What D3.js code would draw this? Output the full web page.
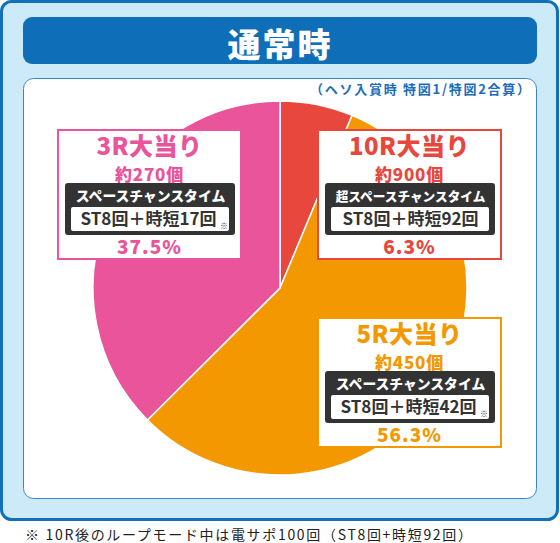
<!DOCTYPE html>
<html lang="ja">
<head>
<meta charset="UTF-8">
<title>通常時</title>
<style>
  body { margin: 0; padding: 0; background: #fff; }
  svg { display: block; }
  text { font-family: "Noto Sans CJK JP", "Noto Sans", sans-serif; }
</style>
</head>
<body>
<svg id="chart" width="560" height="543"></svg>
<script src="https://d3js.org/d3.v7.min.js"></script>
<script>
// chart values
const categories = ["10R大当り", "5R大当り", "3R大当り"];
const shares = [6.3, 56.3, 37.5];
const payouts = ["約900個", "約450個", "約270個"];
const modes = ["超スペースチャンスタイム", "スペースチャンスタイム", "スペースチャンスタイム"];
const spins = ["ST8回＋時短92回", "ST8回＋時短42回", "ST8回＋時短17回"];
const hasNote = [false, true, true];
const colors = ["#e8473d", "#f39800", "#e9549a"];

const title = "通常時";
const subtitle = "（ヘソ入賞時 特図1/特図2合算）";
const footnote = "※  10R後のループモード中は電サポ100回（ST8回+時短92回）";

// label box layout (top-left corner of each box)
const boxPos = [[317, 129], [317, 317], [57, 129]];
const boxW = 185, boxH = 131;

const svg = d3.select("#chart");

// background panels
svg.append("rect")
  .attr("x", 1.5).attr("y", 1.5).attr("width", 556).attr("height", 518)
  .attr("rx", 10).attr("fill", "#cdeaf8").attr("stroke", "#1270b9").attr("stroke-width", 3);

svg.append("rect")
  .attr("x", 23).attr("y", 17).attr("width", 514).attr("height", 47)
  .attr("rx", 9).attr("fill", "#0f6eb8");

svg.append("text")
  .attr("x", 280).attr("y", 57)
  .attr("text-anchor", "middle")
  .attr("font-size", 33).attr("font-weight", 900)
  .attr("fill", "#fff")
  .attr("letter-spacing", 2)
  .text(title);

svg.append("rect")
  .attr("x", 23.5).attr("y", 78.5).attr("width", 513).attr("height", 420)
  .attr("rx", 10).attr("fill", "#fff").attr("stroke", "#3d83cc").attr("stroke-width", 1);

svg.append("text")
  .attr("x", 310).attr("y", 94)
  .attr("font-size", 13).attr("font-weight", 700)
  .attr("fill", "#1b6cbb")
  .attr("textLength", 220)
  .text(subtitle);

// pie
const cx = 280, cy = 288, radius = 187;

const pie = d3.pie().sort(null).value(d => d);
const arc = d3.arc().innerRadius(0).outerRadius(radius);

svg.append("g")
  .attr("transform", `translate(${cx},${cy})`)
  .selectAll("path")
  .data(pie(shares))
  .join("path")
  .attr("d", arc)
  .attr("fill", (d, i) => colors[i])
  .attr("stroke", "#fff")
  .attr("stroke-width", 1.5);

// label boxes
const boxes = svg.selectAll("g.label")
  .data(categories)
  .join("g")
  .attr("class", "label")
  .attr("transform", (d, i) => `translate(${boxPos[i][0]},${boxPos[i][1]})`);

boxes.append("rect")
  .attr("x", 1).attr("y", 1).attr("width", boxW - 2).attr("height", boxH - 2)
  .attr("fill", "#fff")
  .attr("stroke", (d, i) => colors[i]).attr("stroke-width", 2);

boxes.append("text")
  .attr("x", boxW / 2).attr("y", 26)
  .attr("text-anchor", "middle")
  .attr("font-size", 24).attr("font-weight", 900)
  .attr("letter-spacing", 0.5)
  .attr("fill", (d, i) => colors[i])
  .text(d => d);

boxes.append("text")
  .attr("x", boxW / 2).attr("y", 52)
  .attr("text-anchor", "middle")
  .attr("font-size", 17).attr("font-weight", 900)
  .attr("letter-spacing", 0.8)
  .attr("fill", (d, i) => colors[i])
  .text((d, i) => payouts[i]);

boxes.append("rect")
  .attr("x", 8).attr("y", 54).attr("width", 170).attr("height", 52)
  .attr("rx", 3).attr("fill", "#333");

boxes.append("text")
  .attr("x", boxW / 2 + 1).attr("y", 72)
  .attr("text-anchor", "middle")
  .attr("font-size", (d, i) => Math.min(14, 152 / modes[i].length))
  .attr("font-weight", 900)
  .attr("fill", "#fff")
  .text((d, i) => modes[i]);

boxes.append("rect")
  .attr("x", 14).attr("y", 78).attr("width", 158).attr("height", 24)
  .attr("rx", 2).attr("fill", "#fff");

boxes.append("text")
  .attr("x", (d, i) => boxW / 2 + 1 - (hasNote[i] ? 2 : 0)).attr("y", 96)
  .attr("text-anchor", "middle")
  .attr("font-size", 17).attr("font-weight", 700)
  .attr("fill", "#333")
  .text((d, i) => spins[i]);

boxes.filter((d, i) => hasNote[i])
  .append("text")
  .attr("x", 167).attr("y", 100)
  .attr("text-anchor", "middle")
  .attr("font-size", 8)
  .attr("fill", "#333")
  .text("※");

boxes.append("text")
  .attr("x", boxW / 2).attr("y", 125)
  .attr("text-anchor", "middle")
  .attr("font-size", 19).attr("font-weight", 900)
  .attr("letter-spacing", 1)
  .attr("fill", (d, i) => colors[i])
  .text((d, i) => shares[i].toFixed(1) + "%");

// footnote
svg.append("text")
  .attr("x", 25).attr("y", 540)
  .attr("font-size", 14)
  .attr("fill", "#222")
  .attr("textLength", 447)
  .text(footnote);
</script>
</body>
</html>
